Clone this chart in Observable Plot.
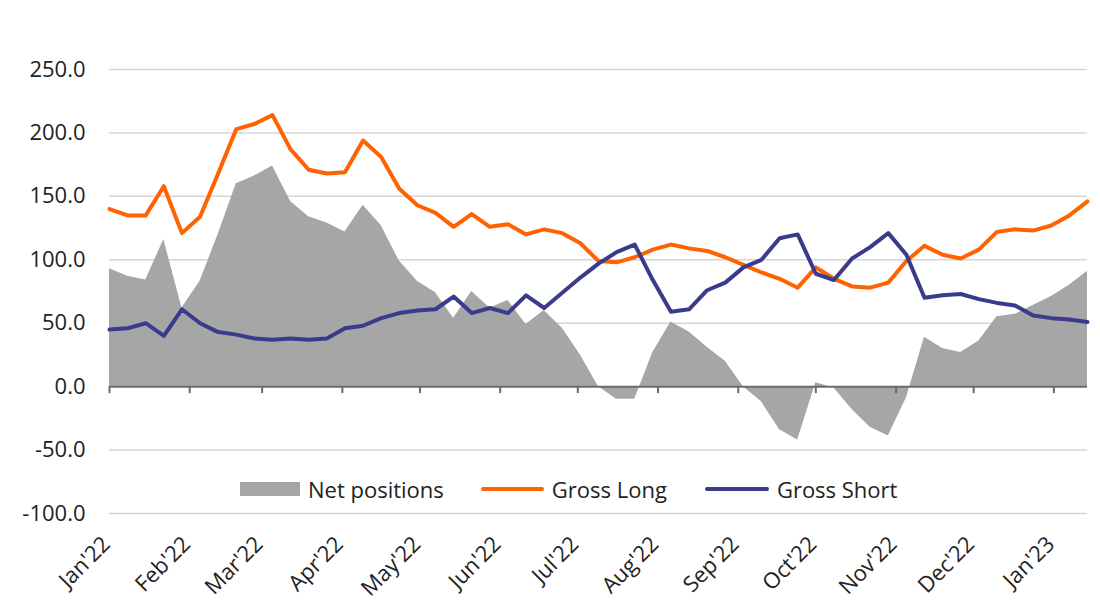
<!DOCTYPE html>
<html>
<head>
<meta charset="utf-8">
<script src="https://cdn.jsdelivr.net/npm/d3@7"></script>
<script src="https://cdn.jsdelivr.net/npm/@observablehq/plot@0.6"></script>
<style>
  html, body { margin: 0; padding: 0; background: #fff; }
  #wrap { position: relative; width: 1100px; height: 616px; font-family: "Open Sans", sans-serif; }
  #legend { position: absolute; left: 240px; top: 475px; display: flex; align-items: center; font-size: 22px; line-height: 28px; color: #222; white-space: nowrap; }
  .sw { display: inline-block; margin-right: 8px; }
  .item { display: flex; align-items: center; }
</style>
</head>
<body>
<div id="wrap">
  <div id="chart"></div>
  <div id="legend">
    <div class="item"><span class="sw" style="width:60px;height:14px;background:#a6a6a6"></span>Net positions</div>
    <div class="item" style="margin-left:37px"><span class="sw" style="width:63px;height:4px;background:#ff6200;border-radius:2px"></span>Gross Long</div>
    <div class="item" style="margin-left:38px"><span class="sw" style="width:64px;height:4px;background:#3b3b8e;border-radius:2px"></span>Gross Short</div>
  </div>
</div>
<script>
const dates = [
  "2022-01-04","2022-01-11","2022-01-18","2022-01-25",
  "2022-02-01","2022-02-08","2022-02-15","2022-02-22",
  "2022-03-01","2022-03-08","2022-03-15","2022-03-22","2022-03-29",
  "2022-04-05","2022-04-12","2022-04-19","2022-04-26",
  "2022-05-03","2022-05-10","2022-05-17","2022-05-24","2022-05-31",
  "2022-06-07","2022-06-14","2022-06-21","2022-06-28",
  "2022-07-05","2022-07-12","2022-07-19","2022-07-26",
  "2022-08-02","2022-08-09","2022-08-16","2022-08-23","2022-08-30",
  "2022-09-06","2022-09-13","2022-09-20","2022-09-27",
  "2022-10-04","2022-10-11","2022-10-18","2022-10-25",
  "2022-11-01","2022-11-08","2022-11-15","2022-11-22","2022-11-29",
  "2022-12-06","2022-12-13","2022-12-20","2022-12-27",
  "2023-01-03","2023-01-10","2023-01-17"
];
const netPositions = [
  93, 87, 84, 116, 62, 83, 120, 160, 166, 174, 146, 134, 129,
  122, 143, 127, 99, 83, 74, 54, 75, 62, 68, 49, 60, 46,
  25, 0, -10, -10, 27, 51, 43, 31, 20, 0, -12, -34, -42,
  3, -1, -18, -32, -39, -9, 39, 30, 27, 36, 55, 57, 64, 71, 80, 91
];
const grossLong = [
  140, 135, 135, 158, 121, 134, 168, 203, 207, 214, 187, 171, 168,
  169, 194, 181, 156, 143, 137, 126, 136, 126, 128, 120, 124, 121,
  113, 99, 98, 102, 108, 112, 109, 107, 102, 96, 90, 85, 78,
  94, 85, 79, 78, 82, 99, 111, 104, 101, 108, 122, 124, 123, 127, 135, 146
];
const grossShort = [
  45, 46, 50, 40, 61, 50, 43, 41, 38, 37, 38, 37, 38,
  46, 48, 54, 58, 60, 61, 71, 58, 62, 58, 72, 62, 74,
  86, 97, 106, 112, 84, 59, 61, 76, 82, 94, 100, 117, 120,
  89, 84, 101, 110, 121, 104, 70, 72, 73, 69, 66, 64, 56, 54, 53, 51
];
const tickDates = [
  "2022-01-04","2022-02-04","2022-03-04","2022-04-04","2022-05-04","2022-06-04",
  "2022-07-04","2022-08-04","2022-09-04","2022-10-04","2022-11-04","2022-12-04","2023-01-04"
];
const tickLabels = ["Jan'22","Feb'22","Mar'22","Apr'22","May'22","Jun'22","Jul'22","Aug'22","Sep'22","Oct'22","Nov'22","Dec'22","Jan'23"];
const yTicks = [-100, -50, 0, 50, 100, 150, 200, 250];

const data = dates.map((d, i) => ({date: new Date(d), net: netPositions[i], long: grossLong[i], short: grossShort[i]}));
const ticks = tickDates.map((d, i) => ({date: new Date(d), label: tickLabels[i]}));

const chart = Plot.plot({
  width: 1100,
  height: 616,
  marginLeft: 109,
  marginRight: 13,
  marginTop: 69,
  marginBottom: 103,
  style: {fontFamily: "Open Sans", fontSize: "22px", color: "#222", background: "white"},
  x: {type: "utc", domain: [data[0].date, data[data.length - 1].date], axis: null},
  y: {domain: [-100, 250], ticks: yTicks, tickFormat: d => d.toFixed(1), tickSize: 0, tickPadding: 24, label: null},
  marks: [
    Plot.ruleY(yTicks.filter(d => d !== 0), {stroke: "#d6d6d6", strokeWidth: 1.5}),
    Plot.areaY(data, {x: "date", y: "net", fill: "#a6a6a6"}),
    Plot.ruleY([0], {stroke: "#6b6b6b", strokeWidth: 2}),
    Plot.ruleX(ticks, {x: "date", y1: 0, y2: -5.5, stroke: "#6b6b6b", strokeWidth: 2}),
    Plot.line(data, {x: "date", y: "long", stroke: "#ff6200", strokeWidth: 4, strokeLinejoin: "round"}),
    Plot.line(data, {x: "date", y: "short", stroke: "#3b3b8e", strokeWidth: 4, strokeLinejoin: "round"}),
    Plot.text(ticks, {x: "date", frameAnchor: "bottom", text: "label", rotate: -45, textAnchor: "end", dy: 32, dx: 2, fontSize: 22, fill: "#222"})
  ]
});
document.getElementById("chart").appendChild(chart);
</script>
</body>
</html>
